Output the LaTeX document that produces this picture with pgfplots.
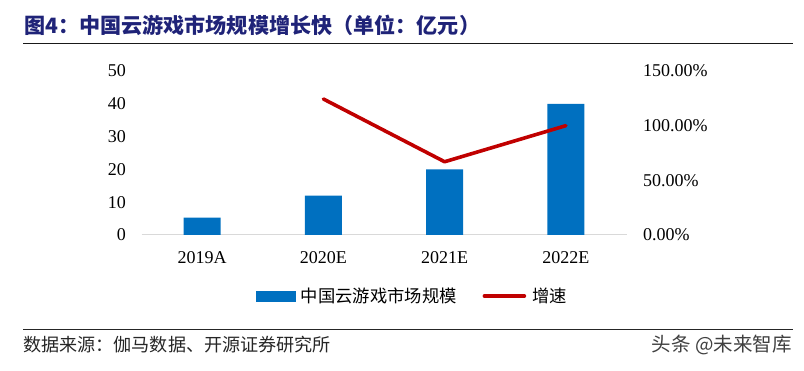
\documentclass[border=0pt]{standalone}
\usepackage{pgfplots}
\pgfplotsset{compat=1.18}
\usepackage{fontspec}
\setmainfont{Liberation Serif}
\newfontfamily\cjk{Noto Sans CJK SC}
\definecolor{barblue}{HTML}{0070C0}
\definecolor{linered}{HTML}{C00000}
\definecolor{titleblue}{RGB}{31,35,120}
\definecolor{basegray}{HTML}{D9D9D9}
\begin{document}
\begin{tikzpicture}
\path[use as bounding box] (0pt,0pt) rectangle (804pt,370pt);
% title
\node[anchor=west, inner sep=0pt, text=titleblue] at (24pt,344.5pt)
  {\cjk\bfseries\fontsize{21.1}{23}\selectfont 图4：中国云游戏市场规模增长快（单位：亿元）};
\draw[line width=1.3pt, black!90] (23pt,326.7pt) -- (793pt,326.7pt);
% bars, left axis
\begin{axis}[
  at={(141.5pt,135pt)}, anchor=south west,
  width=485pt, height=164pt, scale only axis,
  xmin=-0.5, xmax=3.5, ymin=0, ymax=50,
  ybar, bar width=37pt,
  xtick={0,1,2,3},
  xticklabels={2019A,2020E,2021E,2022E},
  ytick={0,10,20,30,40,50},
  yticklabels={0,10,20,30,40,50},
  major tick length=0pt,
  axis x line*=bottom, axis y line*=left,
  x axis line style={draw=basegray, line width=1pt, -},
  y axis line style={draw=none},
  tick label style={font=\fontsize{18}{20}\selectfont, inner sep=0pt},
  yticklabel style={anchor=east, xshift=-15.5pt},
  xticklabel style={anchor=north, yshift=-16pt},
  clip=false,
]
\addplot[fill=barblue, draw=none] coordinates {(0,5.3) (1,12) (2,20) (3,40)};
\end{axis}
% line, right axis
\begin{axis}[
  at={(141.5pt,135pt)}, anchor=south west,
  width=485pt, height=164pt, scale only axis,
  xmin=-0.5, xmax=3.5, ymin=0, ymax=150,
  axis x line=none,
  axis y line*=right,
  y axis line style={draw=none},
  major tick length=0pt,
  ytick={0,50,100,150},
  yticklabels={0.00\%,50.00\%,100.00\%,150.00\%},
  tick label style={font=\fontsize{18}{20}\selectfont, inner sep=0pt},
  yticklabel style={anchor=west, xshift=16.5pt},
  clip=false,
  legend columns=2,
  legend style={draw=none, fill=none, at={(0.556,-0.372)}, anchor=center,
    font=\cjk\fontsize{17.3}{19}\selectfont,
    nodes={inner sep=0pt, anchor=west},
    /tikz/every odd column/.append style={column sep=6pt},
    /tikz/every even column/.append style={column sep=26pt}},
]
\addlegendimage{legend image code/.code={\fill[barblue] (0pt,-5pt) rectangle (39pt,5pt);}}
\addlegendentry{中国云游戏市场规模}
\addplot[linered, line width=3.6pt, line join=round, line cap=round,
  legend image code/.code={\draw[linered, line width=3.6pt, line cap=round] (0pt,0pt) -- (40pt,0pt);}]
  coordinates {(1,124.4) (2,67) (3,100)};
\addlegendentry{增速}
\end{axis}
% source
\draw[line width=1.1pt, black!85] (23pt,40.7pt) -- (793pt,40.7pt);
\node[anchor=west, inner sep=0pt, text=black!85] at (23pt,25pt)
  {\cjk\fontsize{18.1}{20}\selectfont 数据来源：伽马数据、开源证券研究所};
\node[anchor=east, inner sep=0pt, text=black!75] at (792pt,25pt)
  {\cjk\fontsize{19.5}{21}\selectfont 头条 @未来智库};
\end{tikzpicture}
\end{document}
